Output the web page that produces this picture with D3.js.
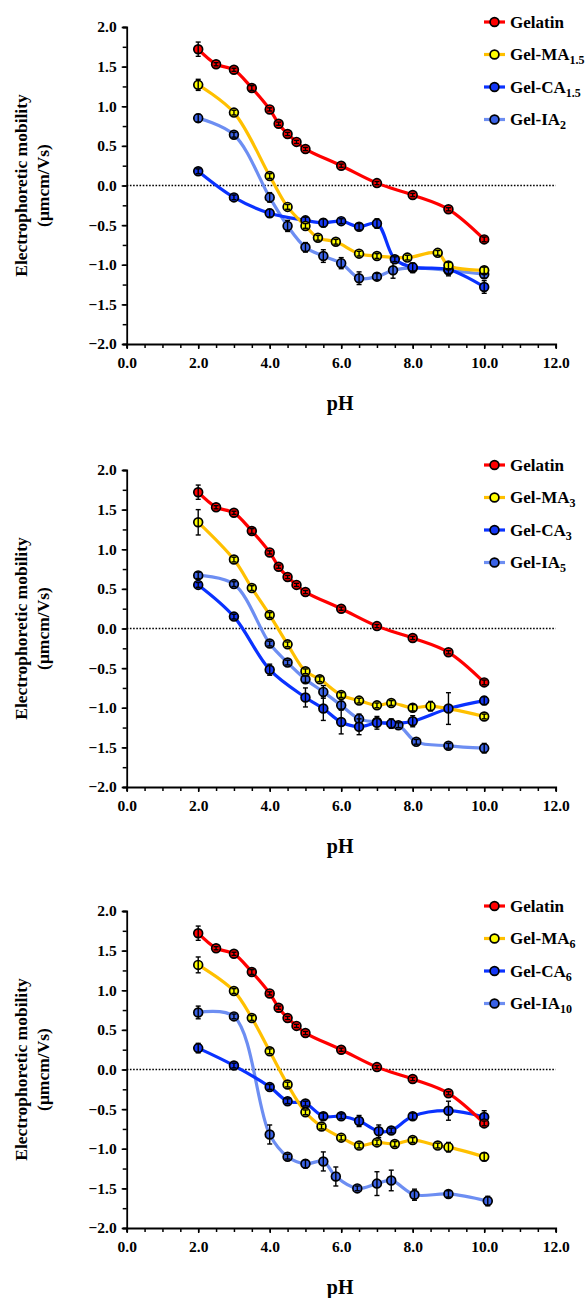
<!DOCTYPE html>
<html><head><meta charset="utf-8">
<script src="https://cdn.jsdelivr.net/npm/d3@7"></script>
<style>body{margin:0;background:#fff}svg{display:block}</style>
</head><body>
<svg id="chart" width="585" height="1298"></svg>
<script>
// ---------------- DATA ----------------
const xTicks = [0, 2, 4, 6, 8, 10, 12];
const yTicks = [2, 1.5, 1, 0.5, 0, -0.5, -1, -1.5, -2];

// Gelatin (same in all panels)
const gelPH  = [2, 2.5, 3, 3.5, 4, 4.25, 4.5, 4.75, 5, 6, 7, 8, 9, 10];
const gelMob = [1.72, 1.53, 1.46, 1.23, 0.96, 0.78, 0.65, 0.55, 0.46, 0.25, 0.03, -0.12, -0.30, -0.68];
const gelErr = [0.09, 0.02, 0.02, 0.03, 0.02, 0.02, 0.02, 0.02, 0.02, 0.02, 0.02, 0.02, 0.02, 0.03];

// Panel 1
const ma15PH  = [2, 3, 4, 4.5, 5, 5.35, 5.85, 6.5, 7, 7.85, 8.7, 9, 10];
const ma15Mob = [1.27, 0.92, 0.12, -0.27, -0.51, -0.66, -0.71, -0.86, -0.89, -0.91, -0.85, -1.01, -1.07];
const ma15Err = [0.07, 0.03, 0.03, 0.03, 0.03, 0.03, 0.03, 0.03, 0.03, 0.03, 0.03, 0.04, 0.04];
const ca15PH  = [2, 3, 4, 5, 5.5, 6, 6.5, 7, 7.5, 8, 9, 10];
const ca15Mob = [0.18, -0.15, -0.35, -0.44, -0.47, -0.45, -0.52, -0.48, -0.93, -1.03, -1.06, -1.28];
const ca15Err = [0.03, 0.03, 0.05, 0.04, 0.05, 0.03, 0.04, 0.06, 0.03, 0.05, 0.06, 0.08];
const ia2PH   = [2, 3, 4, 4.5, 5, 5.5, 6, 6.5, 7, 7.45, 8, 9, 10];
const ia2Mob  = [0.85, 0.64, -0.15, -0.51, -0.78, -0.89, -0.98, -1.17, -1.15, -1.07, -1.04, -1.07, -1.12];
const ia2Err  = [0.05, 0.03, 0.06, 0.07, 0.06, 0.08, 0.07, 0.08, 0.04, 0.10, 0.06, 0.07, 0.05];

// Panel 2
const ma3PH  = [2, 3, 3.5, 4, 4.5, 5, 5.4, 6, 6.5, 7, 7.4, 8, 8.5, 10];
const ma3Mob = [1.34, 0.87, 0.51, 0.17, -0.20, -0.54, -0.64, -0.84, -0.91, -0.97, -0.94, -1.00, -0.98, -1.11];
const ma3Err = [0.16, 0.03, 0.03, 0.03, 0.03, 0.03, 0.03, 0.03, 0.03, 0.03, 0.03, 0.04, 0.06, 0.03];
const ca3PH  = [2, 3, 4, 5, 5.5, 6, 6.5, 7, 7.4, 8, 9, 10];
const ca3Mob = [0.55, 0.15, -0.52, -0.87, -1.01, -1.18, -1.24, -1.19, -1.20, -1.17, -1.01, -0.91];
const ca3Err = [0.03, 0.03, 0.07, 0.12, 0.15, 0.15, 0.10, 0.08, 0.06, 0.07, 0.20, 0.05];
const ia5PH  = [2, 3, 4, 4.5, 5, 5.5, 6, 6.5, 7, 7.6, 8.1, 9, 10];
const ia5Mob = [0.67, 0.56, -0.19, -0.43, -0.64, -0.80, -0.97, -1.14, -1.18, -1.22, -1.43, -1.48, -1.51];
const ia5Err = [0.04, 0.03, 0.03, 0.03, 0.04, 0.08, 0.05, 0.06, 0.04, 0.03, 0.03, 0.03, 0.06];

// Panel 3
const ma6PH  = [2, 3, 3.5, 4, 4.5, 5, 5.45, 6, 6.5, 7, 7.5, 8, 8.7, 9, 10];
const ma6Mob = [1.32, 0.99, 0.65, 0.23, -0.19, -0.54, -0.72, -0.86, -0.96, -0.92, -0.94, -0.89, -0.96, -0.98, -1.10];
const ma6Err = [0.10, 0.03, 0.03, 0.03, 0.03, 0.03, 0.03, 0.03, 0.03, 0.03, 0.03, 0.03, 0.03, 0.06, 0.05];
const ca6PH  = [2, 3, 4, 4.5, 5, 5.5, 6, 6.5, 7.05, 7.4, 8, 9, 10];
const ca6Mob = [0.27, 0.05, -0.22, -0.40, -0.43, -0.59, -0.59, -0.65, -0.78, -0.77, -0.59, -0.52, -0.60];
const ca6Err = [0.06, 0.03, 0.03, 0.03, 0.03, 0.04, 0.03, 0.07, 0.08, 0.03, 0.04, 0.12, 0.08];
const ia10PH  = [2, 3, 4, 4.5, 5, 5.5, 5.85, 6.45, 7, 7.4, 8.05, 9, 10.1];
const ia10Mob = [0.72, 0.67, -0.82, -1.10, -1.19, -1.16, -1.35, -1.50, -1.44, -1.40, -1.58, -1.57, -1.66];
const ia10Err = [0.08, 0.03, 0.12, 0.03, 0.05, 0.12, 0.12, 0.03, 0.15, 0.13, 0.07, 0.04, 0.06];

const legendBase = ["Gelatin", "Gel-MA", "Gel-CA", "Gel-IA"];
const subs = [["", "1.5", "1.5", "2"], ["", "3", "3", "5"], ["", "6", "6", "10"]];

// ---------------- STYLE ----------------
const lineColors = ["#ff0000", "#ffc000", "#0a32ff", "#6d8ef2"];
const fillColors = ["#ff0000", "#ffff00", "#1437f5", "#3a62e6"];
const font = "'Liberation Serif', 'Times New Roman', serif";

const panels = [
  {top: 27,  series: [[gelPH, gelMob, gelErr], [ma15PH, ma15Mob, ma15Err], [ca15PH, ca15Mob, ca15Err], [ia2PH, ia2Mob, ia2Err]]},
  {top: 470, series: [[gelPH, gelMob, gelErr], [ma3PH, ma3Mob, ma3Err], [ca3PH, ca3Mob, ca3Err], [ia5PH, ia5Mob, ia5Err]]},
  {top: 911, series: [[gelPH, gelMob, gelErr], [ma6PH, ma6Mob, ma6Err], [ca6PH, ca6Mob, ca6Err], [ia10PH, ia10Mob, ia10Err]]}
];

const svg = d3.select("#chart");
const left = 126.7, right = 555.7, plotH = 317;
const x = d3.scaleLinear().domain([0, 12]).range([left, right]);

panels.forEach((p, pi) => {
  const y = d3.scaleLinear().domain([-2, 2]).range([p.top + plotH, p.top]);
  const g = svg.append("g");

  // zero dotted line
  g.append("line").attr("x1", x(0)).attr("x2", x(12)).attr("y1", y(0)).attr("y2", y(0))
    .attr("stroke", "#000").attr("stroke-width", 1.6).attr("stroke-dasharray", "1.6,1.6");

  // y axis
  const yMinor = d3.range(-2, 2.001, 0.25);
  const ya = g.append("g").attr("transform", `translate(${left},0)`)
    .call(d3.axisLeft(y).tickValues(yMinor).tickSize(4).tickFormat(""));
  ya.select(".domain").attr("stroke-width", 1.8);
  ya.selectAll(".tick line").attr("stroke-width", 1.5);
  const yaL = g.append("g").attr("transform", `translate(${left},0)`)
    .call(d3.axisLeft(y).tickValues(yTicks).tickSize(5).tickPadding(5).tickFormat(d3.format(".1f")));
  yaL.select(".domain").remove();
  yaL.selectAll(".tick line").attr("stroke-width", 1.5);
  yaL.selectAll("text").attr("font-family", font).attr("font-weight", "bold").attr("font-size", 15.5).attr("fill", "#000");

  // x axis
  const xMinor = d3.range(0, 12.001, 0.5);
  const xa = g.append("g").attr("transform", `translate(0,${p.top + plotH})`)
    .call(d3.axisBottom(x).tickValues(xMinor).tickSize(4).tickFormat(""));
  xa.select(".domain").attr("stroke-width", 1.8);
  xa.selectAll(".tick line").attr("stroke-width", 1.5);
  const xaL = g.append("g").attr("transform", `translate(0,${p.top + plotH})`)
    .call(d3.axisBottom(x).tickValues(xTicks).tickSize(5).tickPadding(8).tickFormat(d3.format(".1f")));
  xaL.select(".domain").remove();
  xaL.selectAll(".tick line").attr("stroke-width", 1.5);
  xaL.selectAll("text").attr("font-family", font).attr("font-weight", "bold").attr("font-size", 15.5).attr("fill", "#000");

  // axis titles
  g.append("text").attr("x", x(6) - 1).attr("y", p.top + plotH + 66)
    .attr("text-anchor", "middle").attr("font-family", font).attr("font-weight", "bold")
    .attr("font-size", 20).text("pH");
  const yc = p.top + plotH / 2;
  const yt = g.append("text").attr("transform", `translate(27,${yc}) rotate(-90)`)
    .attr("text-anchor", "middle").attr("font-family", font).attr("font-weight", "bold").attr("font-size", 17.5);
  yt.append("tspan").attr("x", 0).attr("dy", 0).text("Electrophoretic mobility");
  yt.append("tspan").attr("x", 0).attr("dy", 22).text("(μmcm/Vs)");

  // series
  const line = d3.line().x(d => x(d[0])).y(d => y(d[1])).curve(d3.curveCatmullRom.alpha(0.5));
  const order = [3, 2, 1, 0];
  order.forEach(si => {
    const [px, py, pe] = p.series[si];
    const pts = px.map((v, i) => [v, py[i], pe[i]]);
    g.append("path").datum(pts).attr("d", line).attr("fill", "none")
      .attr("stroke", lineColors[si]).attr("stroke-width", 3.2).attr("stroke-linejoin", "round");
  });
  order.forEach(si => {
    const [px, py, pe] = p.series[si];
    const pts = px.map((v, i) => [v, py[i], pe[i]]);
    const sg = g.append("g");
    sg.selectAll("circle").data(pts).join("circle")
      .attr("cx", d => x(d[0])).attr("cy", d => y(d[1])).attr("r", 4.4)
      .attr("fill", fillColors[si]).attr("stroke", "#000").attr("stroke-width", 1.7);
    const eb = sg.selectAll("g.eb").data(pts).join("g").attr("class", "eb");
    eb.append("line").attr("x1", d => x(d[0])).attr("x2", d => x(d[0]))
      .attr("y1", d => y(d[1] + d[2])).attr("y2", d => y(d[1] - d[2]))
      .attr("stroke", "#000").attr("stroke-width", 1.4);
    eb.append("line").attr("x1", d => x(d[0]) - 2.5).attr("x2", d => x(d[0]) + 2.5)
      .attr("y1", d => y(d[1] + d[2])).attr("y2", d => y(d[1] + d[2]))
      .attr("stroke", "#000").attr("stroke-width", 1.4);
    eb.append("line").attr("x1", d => x(d[0]) - 2.5).attr("x2", d => x(d[0]) + 2.5)
      .attr("y1", d => y(d[1] - d[2])).attr("y2", d => y(d[1] - d[2]))
      .attr("stroke", "#000").attr("stroke-width", 1.4);
  });

  // legend
  const lg = g.append("g");
  legendBase.forEach((name, i) => {
    const ly = p.top - 5 + i * 32.5;
    lg.append("line").attr("x1", 484).attr("x2", 505).attr("y1", ly).attr("y2", ly)
      .attr("stroke", lineColors[i]).attr("stroke-width", 3.2);
    lg.append("circle").attr("cx", 494.5).attr("cy", ly).attr("r", 4.4)
      .attr("fill", fillColors[i]).attr("stroke", "#000").attr("stroke-width", 1.7);
    const t = lg.append("text").attr("x", 510).attr("y", ly + 5.5)
      .attr("font-family", font).attr("font-weight", "bold").attr("font-size", 17);
    t.append("tspan").text(name);
    if (subs[pi][i]) t.append("tspan").attr("dy", 4).attr("font-size", 12).text(subs[pi][i]);
  });
});
</script>
</body></html>
